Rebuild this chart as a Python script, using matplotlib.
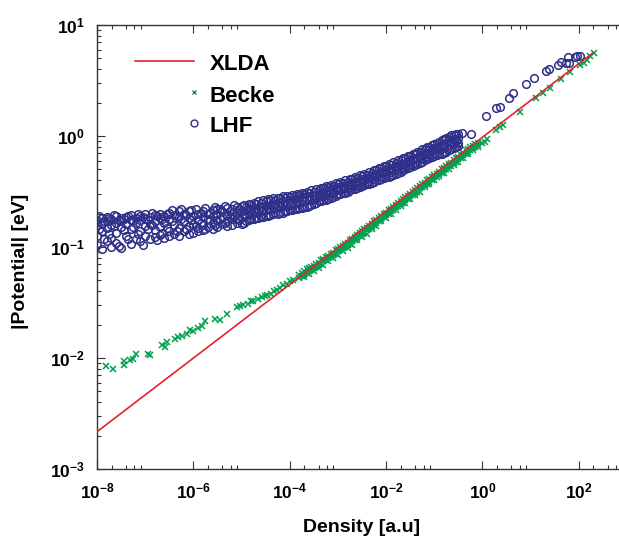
import numpy as np
import matplotlib.pyplot as plt
from matplotlib.ticker import FixedLocator, LogLocator, FuncFormatter, NullFormatter

# values, stored as log10 (density in a.u., |potential| in eV)

# XLDA: straight line on log-log axes, end points
xlda_log_density = [-8.0, 2.29]
xlda_log_potential = [-2.664, 0.748]

# Becke: scattered points at low density and the high density tail
becke_log_density = [-7.81, -7.66, -7.45, -7.45, -7.32, -7.25, -7.19, -6.94, -6.90, -6.66,
                     -6.59, -6.54, -6.38, -6.31, -6.24, -6.14, -6.07, -6.00, -5.90, -5.83,
                     -5.76, -5.55, -5.45, -5.31, -5.10, -5.03, -4.96, -4.86, -4.80, -4.76,
                     -4.66, -4.58, -4.52, -4.48, -4.38, -4.33, -4.27, -4.20, -4.13, -4.06,
                     -3.99, -3.93,
                     0.00, 0.05, 0.10, 0.29, 0.36, 0.43, 0.78, 1.12, 1.26, 1.40,
                     1.64, 1.81, 2.02, 2.10, 2.16, 2.24, 2.31]
becke_log_potential = [-2.07, -2.10, -2.03, -2.06, -2.02, -2.01, -1.96, -1.96, -1.97, -1.88,
                       -1.90, -1.86, -1.83, -1.81, -1.80, -1.78, -1.75, -1.76, -1.73, -1.71,
                       -1.67, -1.65, -1.66, -1.60, -1.54, -1.53, -1.52, -1.51, -1.49, -1.49,
                       -1.47, -1.45, -1.44, -1.435, -1.42, -1.40, -1.39, -1.37, -1.34, -1.33,
                       -1.31, -1.30,
                       -0.06, -0.05, -0.03, 0.054, 0.084, 0.10, 0.22, 0.34, 0.385, 0.43,
                       0.51, 0.58, 0.64, 0.66, 0.685, 0.72, 0.75]

# Becke: dense band just under the XLDA line (one density column, several potentials)
becke_band_log_density = [-3.8, -3.7, -3.6, -3.5, -3.4, -3.3, -3.2, -3.1, -3.0, -2.9,
                          -2.8, -2.7, -2.6, -2.5, -2.4, -2.3, -2.2, -2.1, -2.0, -1.9,
                          -1.8, -1.7, -1.6, -1.5, -1.4, -1.3, -1.2, -1.1, -1.0, -0.9,
                          -0.8, -0.7, -0.6, -0.5, -0.4, -0.3, -0.2, -0.1,
                          -3.75, -3.65, -3.55, -3.45, -3.35, -3.25, -3.15, -3.05, -2.95, -2.85,
                          -2.75, -2.65, -2.55, -2.45, -2.35, -2.25, -2.15, -2.05, -1.95, -1.85,
                          -1.75, -1.65, -1.55, -1.45, -1.35, -1.25, -1.15, -1.05, -0.95, -0.85,
                          -0.75, -0.65, -0.55, -0.45, -0.35, -0.25, -0.15]
becke_band_log_potential = [
    [-1.25, -1.28], [-1.22, -1.25, -1.27], [-1.19, -1.22, -1.24], [-1.17, -1.19, -1.22],
    [-1.14, -1.16, -1.19], [-1.11, -1.13, -1.16], [-1.08, -1.10, -1.13], [-1.05, -1.07, -1.10],
    [-1.02, -1.04, -1.07], [-0.99, -1.01, -1.04], [-0.96, -0.98, -1.01], [-0.93, -0.95, -0.98],
    [-0.89, -0.92, -0.94], [-0.86, -0.88, -0.91], [-0.83, -0.85, -0.88], [-0.79, -0.82, -0.84],
    [-0.76, -0.78, -0.81], [-0.72, -0.75, -0.77], [-0.69, -0.71, -0.74], [-0.66, -0.68, -0.70],
    [-0.62, -0.64, -0.67], [-0.59, -0.61, -0.63], [-0.55, -0.58, -0.60], [-0.52, -0.54, -0.57],
    [-0.49, -0.51, -0.53], [-0.45, -0.47, -0.50], [-0.42, -0.44, -0.46], [-0.39, -0.41, -0.43],
    [-0.35, -0.37, -0.40], [-0.32, -0.34, -0.36], [-0.29, -0.31, -0.33], [-0.25, -0.27, -0.30],
    [-0.22, -0.24, -0.26], [-0.19, -0.21, -0.23], [-0.15, -0.17, -0.20], [-0.12, -0.14, -0.16],
    [-0.09, -0.11, -0.13], [-0.06, -0.08, -0.10],
    [-1.23, -1.26], [-1.20, -1.235], [-1.18, -1.21], [-1.15, -1.18], [-1.12, -1.15],
    [-1.09, -1.12], [-1.06, -1.09], [-1.03, -1.06], [-1.00, -1.03], [-0.97, -1.00],
    [-0.94, -0.97], [-0.91, -0.94], [-0.87, -0.90], [-0.84, -0.87], [-0.81, -0.84],
    [-0.77, -0.80], [-0.74, -0.77], [-0.70, -0.73], [-0.67, -0.70], [-0.64, -0.67],
    [-0.60, -0.63], [-0.57, -0.60], [-0.54, -0.57], [-0.50, -0.53], [-0.47, -0.50],
    [-0.43, -0.46], [-0.40, -0.43], [-0.37, -0.40], [-0.34, -0.37], [-0.30, -0.33],
    [-0.27, -0.30], [-0.24, -0.27], [-0.20, -0.23], [-0.17, -0.20], [-0.13, -0.16],
    [-0.10, -0.13], [-0.07, -0.10]]

# LHF: wide cloud up to ~0.3 a.u. (one density column, several potentials)
lhf_cloud_log_density = [-8.0, -7.9, -7.8, -7.7, -7.6, -7.5, -7.4, -7.3, -7.2, -7.1,
                         -7.0, -6.9, -6.8, -6.7, -6.6, -6.5, -6.4, -6.3, -6.2, -6.1,
                         -6.0, -5.9, -5.8, -5.7, -5.6, -5.5, -5.4, -5.3, -5.2, -5.1,
                         -5.0, -4.9, -4.8, -4.7, -4.6, -4.5, -4.4, -4.3, -4.2, -4.1,
                         -4.0, -3.9, -3.8, -3.7, -3.6, -3.5, -3.4, -3.3, -3.2, -3.1,
                         -3.0, -2.9, -2.8, -2.7, -2.6, -2.5, -2.4, -2.3, -2.2, -2.1,
                         -2.0, -1.9, -1.8, -1.7, -1.6, -1.5, -1.4, -1.3, -1.2, -1.1,
                         -1.0, -0.9, -0.8, -0.7, -0.6, -0.5,
                         -7.95, -7.85, -7.75, -7.65, -7.55, -7.45, -7.35, -7.25, -7.15, -7.05,
                         -6.95, -6.85, -6.75, -6.65, -6.55, -6.45, -6.35, -6.25, -6.15, -6.05,
                         -5.95, -5.85, -5.75, -5.65, -5.55, -5.45, -5.35, -5.25, -5.15, -5.05,
                         -4.95, -4.85, -4.75, -4.65, -4.55, -4.45, -4.35, -4.25, -4.15, -4.05,
                         -3.95, -3.85, -3.75, -3.65, -3.55, -3.45, -3.35, -3.25, -3.15, -3.05,
                         -2.95, -2.85, -2.75, -2.65, -2.55, -2.45, -2.35, -2.25, -2.15, -2.05,
                         -1.95, -1.85, -1.75, -1.65, -1.55, -1.45, -1.35, -1.25, -1.15, -1.05,
                         -0.95, -0.85, -0.75, -0.65, -0.55]
lhf_cloud_log_potential = [
    [-0.76, -0.80, -0.90, -0.98], [-0.74, -0.79, -0.86, -1.02], [-0.73, -0.77, -0.83, -0.95],
    [-0.75, -0.80, -0.92, -1.00], [-0.72, -0.78, -0.87, -0.96], [-0.74, -0.77, -0.82, -1.01],
    [-0.73, -0.79, -0.90], [-0.71, -0.76, -0.84, -0.97], [-0.74, -0.78, -0.93],
    [-0.72, -0.76, -0.86, -0.95], [-0.70, -0.75, -0.81, -0.90], [-0.73, -0.79, -0.93],
    [-0.71, -0.77, -0.85, -0.91], [-0.70, -0.74, -0.82, -0.89], [-0.72, -0.78, -0.92],
    [-0.69, -0.75, -0.86, -0.90], [-0.71, -0.80, -0.88], [-0.68, -0.73, -0.83, -0.90],
    [-0.70, -0.77, -0.86], [-0.68, -0.74, -0.81, -0.88], [-0.72, -0.79, -0.87],
    [-0.70, -0.76, -0.83, -0.86], [-0.68, -0.73, -0.80, -0.85], [-0.70, -0.75, -0.82],
    [-0.67, -0.72, -0.78, -0.84], [-0.66, -0.70, -0.76, -0.82], [-0.68, -0.73, -0.79],
    [-0.65, -0.71, -0.77, -0.81], [-0.66, -0.70, -0.75, -0.80], [-0.64, -0.69, -0.74, -0.78],
    [-0.63, -0.68, -0.73, -0.79], [-0.64, -0.67, -0.71, -0.77], [-0.62, -0.66, -0.70, -0.75],
    [-0.61, -0.65, -0.69, -0.74], [-0.60, -0.64, -0.68, -0.73], [-0.59, -0.63, -0.67, -0.72],
    [-0.58, -0.62, -0.66, -0.71], [-0.58, -0.61, -0.65, -0.69], [-0.56, -0.60, -0.64, -0.69],
    [-0.56, -0.59, -0.63, -0.68], [-0.55, -0.58, -0.62, -0.67], [-0.54, -0.57, -0.61, -0.66],
    [-0.53, -0.56, -0.60, -0.65], [-0.52, -0.55, -0.59, -0.64], [-0.51, -0.54, -0.58, -0.63],
    [-0.50, -0.53, -0.57, -0.61], [-0.49, -0.52, -0.55, -0.59], [-0.47, -0.50, -0.54, -0.58],
    [-0.46, -0.49, -0.53, -0.57], [-0.45, -0.48, -0.51, -0.55], [-0.43, -0.46, -0.49, -0.52],
    [-0.42, -0.45, -0.48, -0.51], [-0.41, -0.44, -0.47, -0.50], [-0.39, -0.42, -0.45, -0.48],
    [-0.38, -0.41, -0.44, -0.47], [-0.36, -0.39, -0.42, -0.45], [-0.35, -0.38, -0.41, -0.43],
    [-0.33, -0.36, -0.39, -0.42], [-0.31, -0.34, -0.37, -0.40], [-0.29, -0.32, -0.36, -0.39],
    [-0.27, -0.31, -0.34, -0.37], [-0.26, -0.29, -0.32, -0.36], [-0.24, -0.27, -0.31, -0.34],
    [-0.22, -0.26, -0.29, -0.32], [-0.20, -0.24, -0.27, -0.30], [-0.18, -0.22, -0.25, -0.28],
    [-0.16, -0.20, -0.23, -0.26], [-0.14, -0.18, -0.21, -0.24], [-0.12, -0.16, -0.19, -0.22],
    [-0.10, -0.13, -0.17, -0.20], [-0.07, -0.11, -0.15, -0.18], [-0.05, -0.09, -0.13, -0.16],
    [-0.03, -0.07, -0.11, -0.15], [-0.01, -0.04, -0.08, -0.13], [0.01, -0.03, -0.07, -0.11],
    [0.02, -0.02, -0.06, -0.09],
    [-0.72, -0.84], [-0.77, -0.93], [-0.74, -0.88], [-0.71, -0.81], [-0.76, -0.99],
    [-0.75, -0.85], [-0.72, -0.93], [-0.77, -0.82], [-0.70, -0.88], [-0.73, -0.98],
    [-0.76, -0.84], [-0.69, -0.80], [-0.72, -0.94], [-0.75, -0.87], [-0.70, -0.83],
    [-0.67, -0.77], [-0.72, -0.86], [-0.66, -0.75], [-0.71, -0.84], [-0.67, -0.76],
    [-0.66, -0.81], [-0.69, -0.78], [-0.65, -0.84], [-0.69, -0.76], [-0.64, -0.80],
    [-0.66, -0.75], [-0.63, -0.78], [-0.68, -0.73], [-0.62, -0.72], [-0.66, -0.76],
    [-0.62, -0.70, -0.78], [-0.61, -0.68, -0.76], [-0.60, -0.67, -0.75], [-0.59, -0.66, -0.74],
    [-0.58, -0.655, -0.73], [-0.57, -0.645, -0.72], [-0.56, -0.635, -0.70], [-0.555, -0.625, -0.70],
    [-0.545, -0.615, -0.69], [-0.54, -0.605, -0.68], [-0.53, -0.595, -0.67], [-0.52, -0.585, -0.66],
    [-0.51, -0.575, -0.65], [-0.50, -0.565, -0.64], [-0.49, -0.555, -0.62], [-0.48, -0.54, -0.60],
    [-0.465, -0.525, -0.59], [-0.45, -0.51, -0.58], [-0.44, -0.50, -0.56], [-0.42, -0.48, -0.54],
    [-0.41, -0.465, -0.52], [-0.40, -0.455, -0.51], [-0.385, -0.44, -0.49], [-0.37, -0.425, -0.48],
    [-0.355, -0.41, -0.46], [-0.34, -0.395, -0.44], [-0.325, -0.375, -0.43], [-0.305, -0.355, -0.41],
    [-0.285, -0.335, -0.40], [-0.27, -0.32, -0.38], [-0.25, -0.30, -0.37], [-0.235, -0.29, -0.35],
    [-0.215, -0.27, -0.33], [-0.20, -0.255, -0.31], [-0.18, -0.235, -0.29], [-0.16, -0.215, -0.27],
    [-0.14, -0.195, -0.25], [-0.12, -0.175, -0.23], [-0.10, -0.15, -0.21], [-0.08, -0.13, -0.19],
    [-0.06, -0.11, -0.17], [-0.035, -0.09, -0.16], [-0.015, -0.06, -0.14], [0.005, -0.05, -0.12],
    [0.015, -0.04, -0.10]]

# LHF: sparse points at high density
lhf_log_density = [-0.43, -0.24, 0.07, 0.28, 0.36, 0.55, 0.64, 0.90, 1.07, 1.32,
                   1.38, 1.57, 1.62, 1.74, 1.78, 1.80, 1.92, 1.96, 2.02]
lhf_log_potential = [0.024, 0.015, 0.18, 0.255, 0.264, 0.34, 0.39, 0.47, 0.52, 0.59,
                     0.60, 0.64, 0.67, 0.655, 0.71, 0.655, 0.715, 0.72, 0.72]

red = '#E3232B'
green = '#00A04E'
blue = '#2E3089'

plt.rcParams['font.family'] = 'Liberation Sans'
plt.rcParams['font.weight'] = 'bold'
plt.rcParams['mathtext.fontset'] = 'custom'
plt.rcParams['mathtext.rm'] = 'Liberation Sans:bold'
plt.rcParams['mathtext.bf'] = 'Liberation Sans:bold'
plt.rcParams['mathtext.default'] = 'bf'

# expand the column tables into point lists
bx = list(becke_log_density)
by = list(becke_log_potential)
for x, ys in zip(becke_band_log_density, becke_band_log_potential):
    bx += [x] * len(ys)
    by += ys
lx = list(lhf_log_density)
ly = list(lhf_log_potential)
for x, ys in zip(lhf_cloud_log_density, lhf_cloud_log_potential):
    lx += [x] * len(ys)
    ly += ys

fig = plt.figure(figsize=(6.19, 5.41), dpi=100)
# the axes run past the right edge of the picture, as in the reference
ax = fig.add_axes([97 / 619, 72 / 541, 530 / 619, 444 / 541])
ax.set_xscale('log')
ax.set_yscale('log')

ax.plot(10 ** np.array(bx), 10 ** np.array(by), 'x', color=green, ms=4.5, mew=1.1, zorder=2)
ax.plot(10 ** np.array(lx), 10 ** np.array(ly), 'o', mfc='none', mec=blue, ms=5.5, mew=1.1, zorder=2)
ax.plot(10 ** np.array(xlda_log_density), 10 ** np.array(xlda_log_potential), color=red, lw=1.2, zorder=3)

ax.set_xlim(1e-8, 1e3)
ax.set_ylim(1e-3, 1e1)

# ticks: labelled every second decade on x, minor ticks at 2,4,6,8
ax.xaxis.set_major_locator(FixedLocator([10.0 ** e for e in range(-8, 3, 2)]))
ax.xaxis.set_minor_locator(FixedLocator([m * 10.0 ** e for e in range(-8, 3, 2) for m in (2, 4, 6, 8)]))
ax.yaxis.set_major_locator(LogLocator(base=10))
ax.yaxis.set_minor_locator(LogLocator(base=10, subs=range(2, 10)))
fmt = FuncFormatter(lambda v, p: r'$\mathbf{10^{%d}}$' % round(np.log10(v)))
ax.xaxis.set_major_formatter(fmt)
ax.yaxis.set_major_formatter(fmt)
ax.xaxis.set_minor_formatter(NullFormatter())
ax.yaxis.set_minor_formatter(NullFormatter())
ax.tick_params(which='both', direction='in', top=True, right=True, width=0.8, colors='#333333',
               labelcolor='black', labelsize=12.5)
ax.tick_params(which='major', length=6)
ax.tick_params(which='minor', length=3)
ax.tick_params(axis='x', pad=9)
ax.tick_params(axis='y', pad=9)
for s in ax.spines.values():
    s.set_linewidth(1.0)
    s.set_color('#333333')

ax.set_xlabel('Density [a.u]', fontsize=14, fontweight='bold')
ax.xaxis.set_label_coords(0.5, -0.113)
ax.set_ylabel('|Potential| [eV]', fontsize=14, fontweight='bold')
ax.yaxis.set_label_coords(-0.128, 0.468)

# legend drawn by hand: markers sit at the right end of the line handle
ax.plot([0.0717, 0.183], [0.919, 0.919], transform=ax.transAxes, color=red, lw=1.2)
ax.plot([0.183], [0.849], 'x', transform=ax.transAxes, color=green, ms=3.5, mew=1.0)
ax.plot([0.183], [0.779], 'o', transform=ax.transAxes, mfc='none', mec=blue, ms=5, mew=1.0)
for y, name in zip([0.899, 0.827, 0.760], ['XLDA', 'Becke', 'LHF']):
    ax.text(0.212, y, name, transform=ax.transAxes, fontsize=16, fontweight='bold', va='baseline')

fig.savefig('out.png', dpi=100)
